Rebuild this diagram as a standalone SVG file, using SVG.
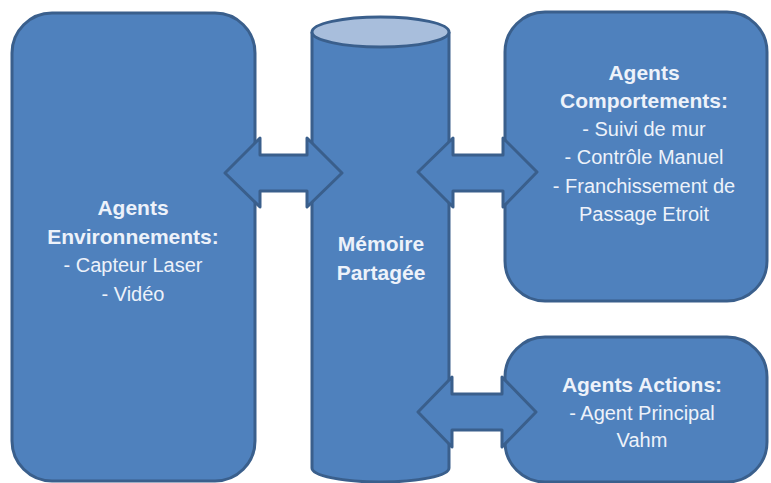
<svg xmlns="http://www.w3.org/2000/svg" width="771" height="483" viewBox="0 0 771 483">
<style>
.shape{fill:#4f81bd;stroke:#3a5f8c;stroke-width:3;stroke-linejoin:round}
.top{fill:#a8bedc;stroke:#3a5f8c;stroke-width:3}
.t{font-family:"Liberation Sans",Arial,sans-serif;fill:#edf2fa;text-anchor:middle}
.b{font-weight:bold;font-size:21px}
.r{font-size:20px}
</style>
<rect width="771" height="483" fill="#ffffff"/>
<g id="env">
<rect class="shape" x="12" y="13" width="243" height="468" rx="40" ry="40"/>
<text class="t b" x="133" y="215">Agents</text>
<text class="t b" x="133" y="244">Environnements:</text>
<text class="t r" x="133" y="272">- Capteur Laser</text>
<text class="t r" x="133" y="301">- Vidéo</text>
</g>
<g id="memoire">
<path class="shape" d="M312,32 L312,468 A68.5,14 0 0 0 449,468 L449,32"/>
<ellipse class="top" cx="380.5" cy="32" rx="68.5" ry="15"/>
<text class="t b" x="381" y="251">Mémoire</text>
<text class="t b" x="381" y="280">Partagée</text>
</g>
<g id="comportements">
<rect class="shape" x="505" y="12" width="262" height="289" rx="40" ry="40"/>
<text class="t b" x="644" y="80">Agents</text>
<text class="t b" x="644" y="108">Comportements:</text>
<text class="t r" x="644" y="136">- Suivi de mur</text>
<text class="t r" x="644" y="164">- Contrôle Manuel</text>
<text class="t r" x="644" y="193">- Franchissement de</text>
<text class="t r" x="644" y="221">Passage Etroit</text>
</g>
<g id="actions">
<rect class="shape" x="505" y="337" width="262" height="145" rx="40" ry="40"/>
<text class="t b" x="642" y="392">Agents Actions:</text>
<text class="t r" x="642" y="420">- Agent Principal</text>
<text class="t r" x="642" y="447">Vahm</text>
</g>
<g id="connectors">
<polygon class="shape" points="225,173 260,138 260,155 307,155 307,138 342,173 307,207 307,191 260,191 260,207"/>
<polygon class="shape" points="418,172 453,138 453,155 503,155 503,138 537,172 503,207 503,191 453,191 453,207"/>
<polygon class="shape" points="418,412 452,377 452,394 502,394 502,377 536,412 502,447 502,430 452,430 452,447"/>
</g>
</svg>
